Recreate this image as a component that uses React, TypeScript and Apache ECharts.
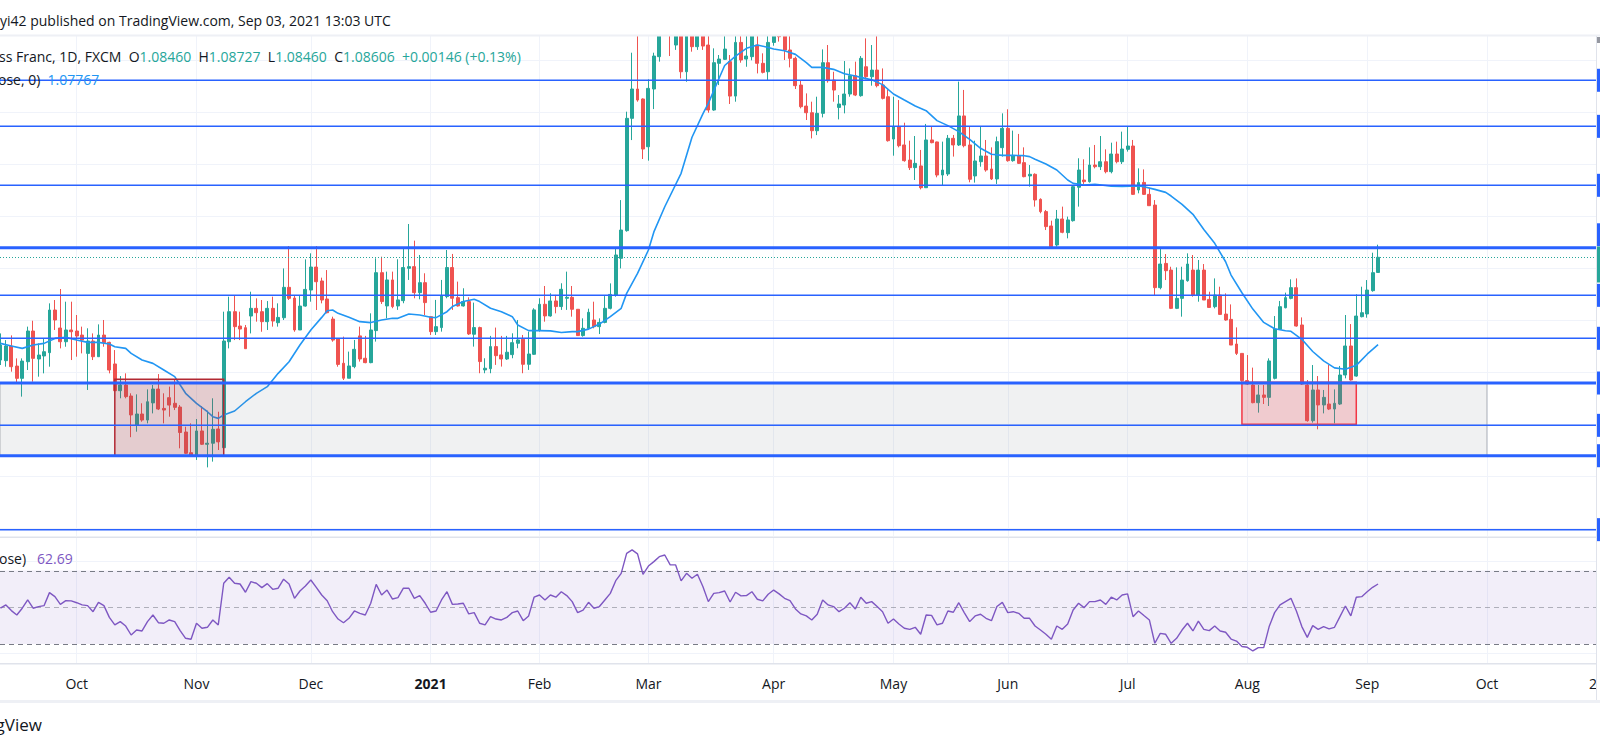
import React, { useEffect, useRef } from "react";
import * as echarts from "echarts";

const FONT = '"Open Sans", Roboto, "Liberation Sans", sans-serif';

// ---------- categories ----------
const FIRST_DAY = "2020-09-11"; // first (half-visible) trading day
const TOTAL_CATEGORIES = 294; // includes empty future days up to the right edge
const HOLIDAYS = ["2020-12-25", "2021-01-01"];
const MONTH_NAMES = ["Jan", "Feb", "Mar", "Apr", "May", "Jun", "Jul", "Aug", "Sep", "Oct", "Nov", "Dec"];
const OFFSET = 14; // index of 2020-10-01 in the category list

// ---------- candles (2020-09-11 .. 2021-09-03) ----------
const opens = [
  1.07618, 1.07612, 1.07753, 1.0756, 1.07442, 1.07602, 1.07897, 1.07628, 1.07657, 1.07689,
  1.08099, 1.07926, 1.07794, 1.07907, 1.07897, 1.07858, 1.07682, 1.07801, 1.0765, 1.07858,
  1.07788, 1.0758, 1.07323, 1.07378, 1.07272, 1.06993, 1.07099, 1.07041, 1.07206, 1.07339,
  1.07153, 1.07256, 1.07202, 1.07166, 1.06926, 1.06727, 1.06701, 1.06936, 1.06808, 1.06818,
  1.06955, 1.06775, 1.07794, 1.08083, 1.07945, 1.07929, 1.08041, 1.08115, 1.08083, 1.07987,
  1.08115, 1.07977, 1.08025, 1.08317, 1.08214, 1.07907, 1.08137, 1.08291, 1.08512, 1.08378,
  1.08205, 1.08012, 1.0782, 1.07587, 1.07443, 1.07555, 1.0785, 1.07635, 1.07593, 1.07901,
  1.08458, 1.08138, 1.08388, 1.08138, 1.08189, 1.085, 1.08516, 1.08266, 1.08362, 1.08035,
  1.07891, 1.0793, 1.08228, 1.08507, 1.08218, 1.08138, 1.0818, 1.07866, 1.0793, 1.07523,
  1.07535, 1.07747, 1.07667, 1.07628, 1.0767, 1.07779, 1.07818, 1.07577, 1.07673, 1.07907,
  1.08154, 1.08042, 1.08186, 1.08132, 1.08212, 1.08221, 1.08106, 1.07853, 1.0792, 1.08003,
  1.07939, 1.0798, 1.08115, 1.08243, 1.08596, 1.08862, 1.09942, 1.10224, 1.10128, 1.09669,
  1.10224, 1.10535, 1.1095, 1.1125, 1.10647, 1.1095, 1.1039, 1.109, 1.10631, 1.1085,
  1.10647, 1.10022, 1.10471, 1.10509, 1.10487, 1.10156, 1.10672, 1.10512, 1.10535, 1.10647,
  1.10471, 1.1039, 1.10672, 1.1085, 1.1075, 1.10599, 1.10519, 1.10262, 1.1006, 1.09996,
  1.09823, 1.0999, 1.10477, 1.1031, 1.10047, 1.1007, 1.10176, 1.10352, 1.1016, 1.10438,
  1.10342, 1.10406, 1.10262, 1.1015, 1.09743, 1.09862, 1.09686, 1.09541, 1.09468, 1.09484,
  1.09275, 1.09734, 1.09715, 1.09397, 1.09407, 1.0975, 1.09686, 1.09965, 1.09686, 1.09388,
  1.09525, 1.0958, 1.09455, 1.09359, 1.0966, 1.09846, 1.09535, 1.0958, 1.09516, 1.09388,
  1.09404, 1.09163, 1.09045, 1.08907, 1.08724, 1.08974, 1.08843, 1.08958, 1.09279, 1.09349,
  1.09333, 1.09493, 1.09477, 1.09525, 1.09429, 1.09599, 1.09525, 1.09644, 1.09676, 1.09253,
  1.09326, 1.09211, 1.09108, 1.08314, 1.08547, 1.08483, 1.08115, 1.08211, 1.08381, 1.08483,
  1.08243, 1.08483, 1.08201, 1.08131, 1.08243, 1.0806, 1.08009, 1.07772, 1.07682, 1.0742,
  1.07378, 1.07208, 1.07282, 1.07259, 1.07442, 1.07913, 1.08121, 1.08211, 1.08314, 1.07955,
  1.07378, 1.07035, 1.0733, 1.07186, 1.07195, 1.07147, 1.07195, 1.07474, 1.07753, 1.07464,
  1.08035, 1.08061, 1.08285, 1.0846,
];
const highs = [
  1.07874, 1.0781, 1.07855, 1.07634, 1.07634, 1.07939, 1.07996, 1.07778, 1.07826, 1.08163,
  1.08195, 1.08301, 1.08179, 1.08179, 1.08051, 1.07939, 1.07923, 1.07874, 1.07961, 1.08003,
  1.07794, 1.07714, 1.07464, 1.0749, 1.07298, 1.07288, 1.07202, 1.07336, 1.07378, 1.07483,
  1.07298, 1.07362, 1.07426, 1.07185, 1.06977, 1.07009, 1.07051, 1.07176, 1.07131, 1.0725,
  1.07121, 1.08083, 1.08227, 1.08237, 1.08083, 1.07955, 1.08275, 1.08211, 1.08195, 1.08185,
  1.08227, 1.08163, 1.08499, 1.08714, 1.08243, 1.08243, 1.08586, 1.08644, 1.08714, 1.0841,
  1.08483, 1.08035, 1.07826, 1.07843, 1.07699, 1.07811, 1.07939, 1.0785, 1.08067, 1.08596,
  1.08612, 1.08468, 1.08468, 1.08587, 1.08692, 1.08926, 1.08766, 1.08628, 1.08452, 1.08035,
  1.08196, 1.08388, 1.08676, 1.08638, 1.08372, 1.08308, 1.08221, 1.0817, 1.07939, 1.07635,
  1.0785, 1.0793, 1.0785, 1.0785, 1.07875, 1.08003, 1.07859, 1.07891, 1.08116, 1.08212,
  1.0833, 1.0826, 1.08244, 1.08356, 1.08468, 1.0833, 1.08106, 1.08019, 1.08112, 1.08179,
  1.08019, 1.08233, 1.08355, 1.08692, 1.09156, 1.10006, 1.10573, 1.109, 1.10134, 1.10317,
  1.10573, 1.111, 1.115, 1.114, 1.111, 1.111, 1.1105, 1.11, 1.1095, 1.1092,
  1.1078, 1.10615, 1.10551, 1.1076, 1.10551, 1.1076, 1.1078, 1.1077, 1.1085, 1.1078,
  1.10567, 1.1078, 1.1085, 1.109, 1.1085, 1.1075, 1.10535, 1.1031, 1.10182, 1.10102,
  1.1015, 1.10605, 1.10647, 1.1039, 1.10166, 1.10493, 1.10422, 1.10487, 1.10541, 1.10711,
  1.10647, 1.1076, 1.10422, 1.10221, 1.1015, 1.10118, 1.099, 1.09727, 1.09772, 1.09638,
  1.09888, 1.09862, 1.09718, 1.09718, 1.09782, 1.09782, 1.10295, 1.10215, 1.09862, 1.09727,
  1.09868, 1.09734, 1.09663, 1.09766, 1.0999, 1.10029, 1.09824, 1.09792, 1.09663, 1.09493,
  1.09413, 1.09173, 1.09061, 1.08958, 1.09061, 1.09093, 1.08997, 1.09301, 1.09558, 1.09548,
  1.09663, 1.09686, 1.09772, 1.09644, 1.09708, 1.09718, 1.09814, 1.09862, 1.09734, 1.09461,
  1.09451, 1.09275, 1.09156, 1.08692, 1.08637, 1.08515, 1.08509, 1.08515, 1.08644, 1.08628,
  1.0858, 1.08541, 1.08275, 1.08403, 1.08323, 1.08259, 1.08153, 1.07932, 1.07682, 1.07666,
  1.07545, 1.07378, 1.07378, 1.07634, 1.08041, 1.08186, 1.08266, 1.08394, 1.08403, 1.08028,
  1.07426, 1.0757, 1.07464, 1.0733, 1.0757, 1.07336, 1.07561, 1.08051, 1.07964, 1.0825,
  1.08323, 1.08387, 1.0865, 1.08727,
];
const lows = [
  1.0757, 1.07554, 1.07506, 1.07394, 1.07266, 1.07522, 1.0741, 1.07458, 1.0749, 1.07554,
  1.07907, 1.0773, 1.07746, 1.07618, 1.0765, 1.07682, 1.0733, 1.07618, 1.0765, 1.07746,
  1.0749, 1.07323, 1.0725, 1.0725, 1.06876, 1.06929, 1.07025, 1.07009, 1.07105, 1.07137,
  1.07009, 1.07073, 1.07137, 1.06769, 1.06714, 1.06701, 1.06657, 1.06801, 1.06586, 1.06641,
  1.06753, 1.06769, 1.0773, 1.0781, 1.0781, 1.07727, 1.07874, 1.07987, 1.0789, 1.07907,
  1.07939, 1.07939, 1.08003, 1.08195, 1.0789, 1.07907, 1.08131, 1.08179, 1.08099, 1.08163,
  1.08067, 1.07794, 1.07554, 1.07426, 1.07443, 1.07539, 1.07603, 1.07587, 1.07587, 1.07795,
  1.08157, 1.08019, 1.08116, 1.081, 1.08164, 1.08388, 1.08212, 1.08202, 1.08051, 1.07859,
  1.07859, 1.07891, 1.08212, 1.081, 1.08132, 1.08132, 1.07859, 1.07747, 1.07491, 1.07491,
  1.07491, 1.07571, 1.07555, 1.07619, 1.07635, 1.07731, 1.07491, 1.07523, 1.07667, 1.07891,
  1.07987, 1.08035, 1.08067, 1.081, 1.081, 1.08035, 1.0785, 1.07843, 1.07907, 1.07923,
  1.07868, 1.07971, 1.08105, 1.08227, 1.08499, 1.08852, 1.09733, 1.10102, 1.09551, 1.09535,
  1.10031, 1.10487, 1.1078, 1.10541, 1.106, 1.10326, 1.10294, 1.10583, 1.106, 1.106,
  1.09996, 1.10015, 1.10262, 1.10503, 1.1008, 1.10102, 1.10477, 1.10438, 1.105, 1.10374,
  1.10374, 1.1031, 1.1064, 1.1068, 1.10503, 1.10432, 1.10224, 1.10038, 1.09926, 1.09749,
  1.09781, 1.09951, 1.10285, 1.10102, 1.09932, 1.0999, 1.1015, 1.10156, 1.1015, 1.10317,
  1.10256, 1.1024, 1.10124, 1.09718, 1.09583, 1.09663, 1.09525, 1.09445, 1.09349, 1.09259,
  1.09272, 1.09702, 1.09375, 1.09301, 1.09388, 1.09574, 1.09676, 1.09663, 1.09327, 1.09324,
  1.09477, 1.09429, 1.09349, 1.09311, 1.09574, 1.09525, 1.09525, 1.09503, 1.09375, 1.09285,
  1.09093, 1.09029, 1.08868, 1.08708, 1.08708, 1.08837, 1.08788, 1.08949, 1.09093, 1.09311,
  1.09324, 1.09461, 1.09445, 1.09413, 1.09413, 1.09509, 1.09503, 1.09622, 1.09205, 1.09221,
  1.09205, 1.09099, 1.08243, 1.08298, 1.08387, 1.08108, 1.08108, 1.08035, 1.08371, 1.08227,
  1.08179, 1.08195, 1.08121, 1.08115, 1.08051, 1.07996, 1.07762, 1.07666, 1.0741, 1.07378,
  1.07202, 1.07112, 1.07195, 1.07176, 1.07432, 1.07907, 1.08115, 1.08202, 1.07939, 1.07378,
  1.07025, 1.07016, 1.06952, 1.07105, 1.07137, 1.07009, 1.07186, 1.07442, 1.0742, 1.07458,
  1.08028, 1.08025, 1.08275, 1.0846,
];
const closes = [
  1.07762, 1.07753, 1.07554, 1.07442, 1.07608, 1.07897, 1.07634, 1.07666, 1.07698, 1.08099,
  1.08003, 1.07794, 1.07907, 1.0789, 1.07849, 1.0781, 1.07801, 1.0765, 1.07858, 1.07785,
  1.07522, 1.07323, 1.07378, 1.07266, 1.0709, 1.07099, 1.07041, 1.07217, 1.07339, 1.07147,
  1.07137, 1.07185, 1.07163, 1.06921, 1.06721, 1.06701, 1.06936, 1.06808, 1.06818, 1.06952,
  1.06831, 1.07801, 1.08083, 1.07939, 1.07916, 1.07727, 1.08115, 1.08073, 1.07987, 1.08115,
  1.07993, 1.08028, 1.08317, 1.08211, 1.07907, 1.08137, 1.08297, 1.08512, 1.08371, 1.08195,
  1.08073, 1.0781, 1.07576, 1.07443, 1.07561, 1.07721, 1.07628, 1.07593, 1.07907, 1.08458,
  1.0818, 1.08388, 1.08132, 1.08196, 1.08507, 1.08516, 1.08266, 1.08362, 1.0817, 1.07891,
  1.07939, 1.08234, 1.08507, 1.08212, 1.08138, 1.0818, 1.07869, 1.0793, 1.07603, 1.07539,
  1.07747, 1.0766, 1.07628, 1.07693, 1.07785, 1.07811, 1.07577, 1.07676, 1.081, 1.08154,
  1.08042, 1.08186, 1.08132, 1.08298, 1.08221, 1.08106, 1.07853, 1.07923, 1.08077, 1.07939,
  1.0798, 1.08115, 1.08249, 1.08628, 1.08868, 1.09942, 1.10224, 1.10118, 1.09647, 1.1023,
  1.10541, 1.1095, 1.1125, 1.1076, 1.109, 1.1039, 1.109, 1.10631, 1.1085, 1.10637,
  1.10022, 1.10477, 1.10512, 1.10608, 1.10156, 1.10672, 1.10503, 1.10541, 1.1078, 1.10471,
  1.10384, 1.10672, 1.1078, 1.10727, 1.10599, 1.10519, 1.10256, 1.10054, 1.09996, 1.09823,
  1.0999, 1.10477, 1.10304, 1.10214, 1.1008, 1.10176, 1.10352, 1.10166, 1.10519, 1.10342,
  1.10406, 1.10256, 1.10134, 1.09727, 1.09862, 1.09679, 1.09535, 1.09468, 1.09509, 1.09275,
  1.09734, 1.09708, 1.09397, 1.09445, 1.0975, 1.09686, 1.09965, 1.09679, 1.09356, 1.09532,
  1.0958, 1.09445, 1.09359, 1.09718, 1.09846, 1.09535, 1.0958, 1.09509, 1.09381, 1.09404,
  1.09157, 1.09045, 1.08901, 1.08708, 1.08974, 1.08846, 1.08965, 1.09285, 1.09445, 1.09333,
  1.09493, 1.09477, 1.09525, 1.09429, 1.09599, 1.09525, 1.09647, 1.09676, 1.09211, 1.09324,
  1.09211, 1.09102, 1.08314, 1.08541, 1.08477, 1.08115, 1.08211, 1.08387, 1.08541, 1.08243,
  1.08483, 1.08195, 1.08124, 1.08243, 1.08057, 1.08003, 1.07762, 1.07682, 1.0742, 1.07387,
  1.07208, 1.07282, 1.07259, 1.07609, 1.07916, 1.08131, 1.08218, 1.08314, 1.07945, 1.07387,
  1.07035, 1.0733, 1.07186, 1.07259, 1.07147, 1.07202, 1.07474, 1.07753, 1.07426, 1.08041,
  1.08073, 1.08291, 1.08458, 1.08606,
];

// ---------- moving average, trading index relative to 2020-10-01 ----------
const maIdx = [
  -14, -12, -10, -8, -6, -4, -2, 0, 2, 4, 6, 7, 9, 10, 12, 14, 16, 18, 20, 22, 24, 25, 26, 27, 29, 31, 33, 35, 37, 39,
  41, 43, 45, 46, 47, 48, 50, 52, 54, 56, 58, 59, 61, 63, 65, 66, 68, 69, 71, 73, 74, 76, 78, 80, 81, 83, 85, 87, 89,
  91, 92, 94, 96, 98, 100, 101, 103, 105, 106, 108, 111, 113, 115, 116, 118, 119, 121, 123, 125, 127, 128, 130, 132,
  134, 135, 137, 139, 141, 143, 144, 146, 148, 150, 152, 154, 156, 158, 160, 162, 164, 166, 168, 170, 172, 174, 175,
  176, 178, 180, 182, 183, 185, 187, 190, 192, 195, 196, 198, 200, 201, 203, 205, 207, 209, 211, 212, 214, 216, 218,
  220, 222, 223, 225, 227, 229, 231, 233, 235, 237, 238, 239,
];
const maVal = [
  1.07778, 1.07753, 1.0773, 1.07762, 1.07778, 1.07826, 1.07836, 1.0781, 1.07788, 1.07788, 1.07772, 1.07746, 1.0773,
  1.07682, 1.07618, 1.07586, 1.07522, 1.07458, 1.07298, 1.07202, 1.07121, 1.07073, 1.07057, 1.07089, 1.07128, 1.07217,
  1.07298, 1.07362, 1.0749, 1.07602, 1.07762, 1.07907, 1.08028, 1.08092, 1.08099, 1.08067, 1.08029, 1.07987, 1.07978,
  1.08003, 1.08019, 1.08019, 1.08061, 1.08051, 1.08029, 1.08026, 1.08083, 1.08132, 1.0818, 1.08202, 1.0818, 1.08116,
  1.08083, 1.08035, 1.07955, 1.07901, 1.07901, 1.07898, 1.07882, 1.07891, 1.07891, 1.07915, 1.07964, 1.08035, 1.08115,
  1.08259, 1.08451, 1.08676, 1.0885, 1.09092, 1.09413, 1.0976, 1.09985, 1.10086, 1.1033, 1.1045, 1.10541, 1.10615,
  1.10647, 1.10624, 1.10608, 1.10592, 1.10557, 1.10477, 1.10432, 1.10432, 1.10413, 1.10371, 1.10349, 1.10336, 1.10312,
  1.10266, 1.10176, 1.10118, 1.10061, 1.10016, 1.0992, 1.09872, 1.09814, 1.0974, 1.09654, 1.09596, 1.09586, 1.09586,
  1.09583, 1.09574, 1.09548, 1.09503, 1.09445, 1.09349, 1.09317, 1.09301, 1.09308, 1.0929, 1.09288, 1.09291, 1.09285,
  1.09259, 1.0923, 1.09195, 1.09115, 1.09019, 1.08874, 1.0874, 1.08563, 1.08435, 1.08265, 1.08108, 1.0798, 1.07919,
  1.079, 1.07894, 1.07817, 1.077, 1.0761, 1.07543, 1.0753, 1.07567, 1.07674, 1.0772, 1.07767,
];

// ---------- RSI (one value per candle) ----------
const rsiValues = [
  49.5, 51.3, 48.2, 45.8, 49.5, 54.0, 49.5, 50.4, 50.9, 58.0,
  55.8, 51.6, 53.6, 53.5, 52.5, 51.3, 50.9, 47.6, 52.7, 50.9,
  44.5, 40.4, 42.2, 39.8, 34.9, 37.6, 37.1, 42.2, 45.8, 41.6,
  41.3, 43.1, 42.2, 37.3, 33.1, 32.6, 41.3, 38.6, 39.1, 43.1,
  40.4, 63.1, 66.4, 63.1, 62.7, 58.2, 64.0, 63.1, 60.7, 62.9,
  59.8, 60.4, 65.3, 62.7, 54.9, 58.9, 61.6, 64.9, 60.9, 56.7,
  53.6, 47.6, 43.6, 41.6, 44.0, 48.0, 46.7, 45.8, 52.2, 62.5,
  56.7, 59.4, 54.5, 55.3, 60.4, 60.4, 54.9, 56.4, 52.2, 47.3,
  48.0, 54.0, 58.5, 51.6, 51.8, 52.2, 46.4, 47.1, 41.3, 40.4,
  44.9, 43.6, 43.1, 44.5, 47.1, 48.0, 42.7, 45.3, 55.5, 56.7,
  54.0, 56.7, 55.5, 58.5, 56.4, 53.1, 47.1, 48.5, 52.7, 49.5,
  50.4, 54.0, 57.6, 64.5, 68.5, 79.4, 81.3, 79.1, 68.0, 72.5,
  74.9, 77.6, 78.5, 73.1, 73.1, 64.4, 68.5, 65.8,
  68.0, 61.3, 53.1, 57.6, 58.0, 58.9, 52.9, 58.2, 56.2, 56.4,
  58.5, 54.4, 53.5, 57.1, 59.4, 57.3, 54.9, 53.6, 49.1, 46.4,
  45.3, 43.1, 46.2, 54.0, 51.3, 50.4, 47.6, 49.5, 52.5, 49.1,
  55.5, 52.2, 53.1, 50.4, 47.6, 41.3, 43.6, 40.9, 38.6, 38.0,
  39.1, 35.3, 45.8, 45.6, 40.4, 41.3, 48.0, 47.3, 52.5, 47.1,
  42.2, 45.3, 46.2, 44.0, 42.7, 50.4, 52.7, 47.1, 47.6, 46.7,
  44.0, 44.0, 39.8, 37.6, 35.3, 32.6, 39.8, 38.0, 40.9, 48.5,
  52.2, 49.8, 53.1, 53.1, 54.0, 51.6, 55.5, 54.0, 56.7, 57.3,
  44.9, 48.0, 45.5, 43.1, 30.4, 35.8, 35.3, 30.4, 33.1, 37.6,
  41.3, 37.1, 42.5, 38.0, 37.3, 39.8, 37.1, 36.4, 32.7, 31.6,
  28.6, 28.2, 26.2, 28.0, 28.0, 39.5, 47.1, 51.3, 53.1, 54.9,
  48.0, 39.5, 33.6, 40.0, 38.0, 39.5, 38.2, 39.1, 44.9, 50.7,
  45.3, 55.5, 55.8, 58.5, 60.9, 62.69,
];

// ---------- levels and drawings ----------
const priceGridLevels = [1.06, 1.065, 1.07, 1.075, 1.08, 1.085, 1.09, 1.095, 1.1, 1.105];
const levelPrices = [1.10308, 1.09865, 1.09298, 1.08698, 1.0824, 1.07827, 1.07397, 1.0699, 1.06698, 1.05987];
const levelBold = [0, 0, 0, 1, 0, 0, 1, 0, 1, 0];
const lastPrice = 1.08606;
// zones: from / to (trading index relative to 2020-10-01), top / bottom price
const zoneFrom = [-14, 7, 214];
const zoneTo = [259, 27, 235];
const zoneTop = [1.07397, 1.07433, 1.07404];
const zoneBottom = [1.06698, 1.06698, 1.07];
const rsiGridLevels = [25, 75];
const rsiBandLevels = [30, 70];
const rsiDashLevels = [70, 50, 30];

const PRICE_MIN = 1.05926;
const PRICE_MAX = 1.107337;
const RSI_MIN = 19.48;
const RSI_MAX = 87.77;

const headerText = "yi42 published on TradingView.com, Sep 03, 2021 13:03 UTC";
const legendSymbol = "ss Franc, 1D, FXCM";
const legendO = "1.08460";
const legendH = "1.08727";
const legendL = "1.08460";
const legendC = "1.08606";
const legendChange = "+0.00146 (+0.13%)";
const maLegend = "ose, 0)";
const maLegendValue = "1.07767";
const rsiLegend = "ose)";
const rsiLegendValue = "62.69";

function buildDates(): string[] {
  const out: string[] = [];
  const [y, m, d] = FIRST_DAY.split("-").map(Number);
  let t = Date.UTC(y, m - 1, d);
  while (out.length < TOTAL_CATEGORIES) {
    const dt = new Date(t);
    const wd = dt.getUTCDay();
    const s = dt.toISOString().slice(0, 10);
    if (wd !== 0 && wd !== 6 && HOLIDAYS.indexOf(s) < 0) out.push(s);
    t += 86400000;
  }
  return out;
}

function buildOption() {
  const dates = buildDates();
  const monthStart = new Set<number>();
  for (let k = 1; k < dates.length; k++) {
    if (dates[k].slice(5, 7) !== dates[k - 1].slice(5, 7)) monthStart.add(k);
  }
  const isMonth = (idx: number) => monthStart.has(idx);

  const gridLeft = 0.467;
  const gridWidth = 1595.4;
  const mainTop = 36;
  const mainHeight = 500;
  const rsiTop = 538;
  const rsiHeight = 125.3;
  const axisEdge = 1596.5;

  const candleData = opens.map((o, k) => [o, closes[k], lows[k], highs[k]]);
  const maData = maIdx.map((i, k) => [i + OFFSET, maVal[k]]);

  const dark = "#131722";
  const teal = "#26a69a";
  const blue = "#2962ff";

  const baseX = {
    type: "category",
    data: dates,
    boundaryGap: false,
    axisLine: { show: false },
    axisTick: { show: false },
    splitLine: { show: true, interval: (idx: number) => isMonth(idx), lineStyle: { color: "#f0f3fa", width: 1 } },
  };

  return {
    animation: false,
    backgroundColor: "#ffffff",
    grid: [
      { left: gridLeft, top: mainTop, width: gridWidth, height: mainHeight },
      { left: gridLeft, top: rsiTop, width: gridWidth, height: rsiHeight },
    ],
    xAxis: [
      { ...baseX, gridIndex: 0, axisLabel: { show: false } },
      {
        ...baseX,
        gridIndex: 1,
        axisLabel: {
          show: true,
          interval: (idx: number) => isMonth(idx),
          formatter: (value: string) => {
            const mm = Number(value.slice(5, 7)) - 1;
            return mm === 0 ? `{b|${value.slice(0, 4)}}` : MONTH_NAMES[mm];
          },
          color: dark,
          fontSize: 14,
          fontFamily: FONT,
          margin: 13,
          rich: { b: { fontWeight: "bold", fontSize: 14, color: dark, fontFamily: FONT } },
        },
      },
    ],
    yAxis: [
      { type: "value", gridIndex: 0, min: PRICE_MIN, max: PRICE_MAX, show: false, scale: true },
      { type: "value", gridIndex: 1, min: RSI_MIN, max: RSI_MAX, show: false, scale: true },
    ],
    series: [
      {
        type: "custom",
        name: "priceGrid",
        xAxisIndex: 0,
        yAxisIndex: 0,
        z: 1,
        silent: true,
        clip: false,
        encode: { x: 0, y: 1 },
        data: priceGridLevels.map((p) => [0, p]),
        renderItem: (params: any, api: any) => {
          const y = Math.round(api.coord([0, api.value(1)])[1]) + 0.5;
          return { type: "line", shape: { x1: 0, y1: y, x2: axisEdge, y2: y }, style: { stroke: "#f0f3fa", lineWidth: 1 } };
        },
      },
      {
        type: "candlestick",
        name: "EURCHF",
        xAxisIndex: 0,
        yAxisIndex: 0,
        z: 2,
        barWidth: 3.4,
        clip: true,
        data: candleData,
        itemStyle: { color: teal, color0: "#ef5350", borderColor: teal, borderColor0: "#ef5350", borderWidth: 1 },
      },
      {
        type: "line",
        name: "MA",
        xAxisIndex: 0,
        yAxisIndex: 0,
        z: 3,
        data: maData,
        showSymbol: false,
        symbol: "none",
        lineStyle: { color: "#2196f3", width: 1.6 },
        silent: true,
      },
      {
        type: "custom",
        name: "zones",
        xAxisIndex: 0,
        yAxisIndex: 0,
        z: 4,
        silent: true,
        clip: false,
        encode: { x: [0, 1], y: [2, 3] },
        data: zoneFrom.map((f, k) => [f + OFFSET, zoneTo[k] + OFFSET, zoneTop[k], zoneBottom[k], k]),
        renderItem: (params: any, api: any) => {
          const kind = api.value(4);
          const p1 = api.coord([api.value(0), api.value(2)]);
          const p2 = api.coord([api.value(1), api.value(3)]);
          const x1 = kind === 0 ? 0 : p1[0];
          const styles = [
            { fill: "rgba(120,123,134,0.11)", stroke: "rgba(120,123,134,0.55)", lineWidth: 1 },
            { fill: "rgba(178,40,51,0.18)", stroke: "#b22833", lineWidth: 1.5 },
            { fill: "rgba(242,54,69,0.2)", stroke: "#f23645", lineWidth: 1.5 },
          ];
          return {
            type: "rect",
            shape: { x: x1, y: p1[1], width: p2[0] - x1, height: p2[1] - p1[1] },
            style: styles[kind],
          };
        },
      },
      {
        type: "custom",
        name: "levels",
        xAxisIndex: 0,
        yAxisIndex: 0,
        z: 5,
        silent: true,
        clip: false,
        encode: { x: 0, y: 1 },
        data: levelPrices.map((p, k) => [0, p, levelBold[k]]),
        renderItem: (params: any, api: any) => {
          const y = api.coord([0, api.value(1)])[1];
          const bold = api.value(2) === 1;
          const yLast = api.coord([0, lastPrice])[1];
          let tagY = y - 11.5;
          if (Math.abs(y - yLast) < 24) tagY = yLast - 11 - 23;
          return {
            type: "group",
            children: [
              { type: "line", shape: { x1: 0, y1: y, x2: axisEdge, y2: y }, style: { stroke: blue, lineWidth: bold ? 3 : 1.5 } },
              { type: "rect", shape: { x: 1597, y: tagY, width: 4, height: 23 }, style: { fill: blue } },
            ],
          };
        },
      },
      {
        type: "custom",
        name: "lastPrice",
        xAxisIndex: 0,
        yAxisIndex: 0,
        z: 5,
        silent: true,
        clip: false,
        encode: { x: 0, y: 1 },
        data: [[0, lastPrice]],
        renderItem: (params: any, api: any) => {
          const y = Math.round(api.coord([0, api.value(1)])[1]) + 0.5;
          return {
            type: "group",
            children: [
              { type: "line", shape: { x1: 0, y1: y, x2: axisEdge, y2: y }, style: { stroke: teal, lineWidth: 1, lineDash: [1, 2] } },
              { type: "rect", shape: { x: 1597, y: y - 11, width: 4, height: 36 }, style: { fill: teal } },
            ],
          };
        },
      },
      {
        type: "custom",
        name: "rsiBand",
        xAxisIndex: 1,
        yAxisIndex: 1,
        z: 1,
        silent: true,
        clip: false,
        encode: { x: 0, y: [1, 2] },
        data: [[0, rsiBandLevels[1], rsiBandLevels[0]]],
        renderItem: (params: any, api: any) => {
          const yTop = api.coord([0, api.value(1)])[1];
          const yBot = api.coord([0, api.value(2)])[1];
          return { type: "rect", shape: { x: 0, y: yTop, width: axisEdge, height: yBot - yTop }, style: { fill: "rgba(126,87,194,0.1)" } };
        },
      },
      {
        type: "custom",
        name: "rsiGrid",
        xAxisIndex: 1,
        yAxisIndex: 1,
        z: 1,
        silent: true,
        clip: false,
        encode: { x: 0, y: 1 },
        data: rsiGridLevels.map((v) => [0, v]),
        renderItem: (params: any, api: any) => {
          const y = Math.round(api.coord([0, api.value(1)])[1]) + 0.5;
          return { type: "line", shape: { x1: 0, y1: y, x2: axisEdge, y2: y }, style: { stroke: "#f0f3fa", lineWidth: 1 } };
        },
      },
      {
        type: "custom",
        name: "rsiLevels",
        xAxisIndex: 1,
        yAxisIndex: 1,
        z: 2,
        silent: true,
        clip: false,
        encode: { x: 0, y: 1 },
        data: rsiDashLevels.map((v) => [0, v]),
        renderItem: (params: any, api: any) => {
          const v = api.value(1);
          const y = Math.round(api.coord([0, v])[1]) + 0.5;
          const mid = v === 50;
          return {
            type: "line",
            shape: { x1: 0, y1: y, x2: axisEdge, y2: y },
            style: { stroke: mid ? "rgba(120,123,134,0.55)" : "#787b86", lineWidth: 1, lineDash: [5, 4] },
          };
        },
      },
      {
        type: "line",
        name: "RSI",
        xAxisIndex: 1,
        yAxisIndex: 1,
        z: 3,
        data: rsiValues,
        showSymbol: false,
        symbol: "none",
        lineStyle: { color: "#7e57c2", width: 1.4 },
        silent: true,
      },
    ],
    graphic: {
      elements: [
        { type: "rect", z: 45, shape: { x: 0, y: 0, width: 1600, height: 35 }, style: { fill: "#ffffff" } },
        { type: "rect", z: 50, shape: { x: 0, y: 34.5, width: 1600, height: 2 }, style: { fill: "#eef0f5" } },
        { type: "rect", z: 50, shape: { x: 0, y: 536.5, width: 1597, height: 1.5 }, style: { fill: "#e0e3eb" } },
        { type: "rect", z: 50, shape: { x: 0, y: 663, width: 1597, height: 1.5 }, style: { fill: "#e0e3eb" } },
        { type: "rect", z: 50, shape: { x: 0, y: 700, width: 1600, height: 3 }, style: { fill: "#eef0f5" } },
        { type: "text", z: 60, x: 1589, y: 683, style: { text: "2", fill: dark, fontSize: 14, fontFamily: FONT, verticalAlign: "middle" } },
        { type: "rect", z: 61, shape: { x: 1597, y: 664, width: 3, height: 36 }, style: { fill: "#ffffff" } },
        { type: "rect", z: 62, shape: { x: 1596, y: 36, width: 1, height: 664 }, style: { fill: "#e0e3eb" } },
        { type: "rect", z: 62, shape: { x: 1597, y: 37, width: 3, height: 6 }, style: { fill: "#9598a1" } },
        {
          type: "text",
          z: 100,
          x: 0,
          y: 20,
          style: { text: headerText, fill: dark, fontSize: 14, fontFamily: FONT, verticalAlign: "middle" },
        },
        {
          type: "text",
          z: 100,
          x: -1,
          y: 56.5,
          style: {
            text: `{d|${legendSymbol}  O}{v|${legendO}}{d|  H}{v|${legendH}}{d|  L}{v|${legendL}}{d|  C}{v|${legendC}}{v|  ${legendChange}}`,
            verticalAlign: "middle",
            fontSize: 14,
            fontFamily: FONT,
            rich: {
              d: { fill: dark, fontSize: 14, fontFamily: FONT },
              v: { fill: teal, fontSize: 14, fontFamily: FONT },
            },
          },
        },
        {
          type: "text",
          z: 100,
          x: -2,
          y: 79.5,
          style: {
            text: `{d|${maLegend}}{v|  ${maLegendValue}}`,
            verticalAlign: "middle",
            fontSize: 14,
            fontFamily: FONT,
            rich: {
              d: { fill: dark, fontSize: 14, fontFamily: FONT },
              v: { fill: "#2196f3", fontSize: 14, fontFamily: FONT },
            },
          },
        },
        {
          type: "text",
          z: 100,
          x: -1,
          y: 558,
          style: {
            text: `{d|${rsiLegend}}{v|   ${rsiLegendValue}}`,
            verticalAlign: "middle",
            fontSize: 14,
            fontFamily: FONT,
            rich: {
              d: { fill: dark, fontSize: 14, fontFamily: FONT },
              v: { fill: "#7e57c2", fontSize: 14, fontFamily: FONT },
            },
          },
        },
        {
          type: "text",
          z: 100,
          x: 42,
          y: 724,
          style: { text: "TradingView", fill: dark, fontSize: 17, fontFamily: FONT, align: "right", verticalAlign: "middle" },
        },
      ],
    },
  };
}

export default function App() {
  const ref = useRef<HTMLDivElement>(null);
  useEffect(() => {
    if (!ref.current) return;
    const chart = echarts.init(ref.current, undefined, { renderer: "svg" });
    chart.setOption(buildOption() as any);
    return () => {
      chart.dispose();
    };
  }, []);
  return (
    <div
      ref={ref}
      style={{ position: "fixed", left: 0, top: 0, width: 1600, height: 747, background: "#ffffff" }}
    />
  );
}
